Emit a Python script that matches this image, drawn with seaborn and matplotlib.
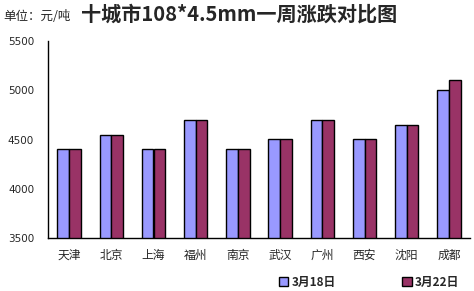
import matplotlib
matplotlib.use("Agg")
import matplotlib.pyplot as plt
import seaborn as sns
import pandas as pd
import numpy as np

cities = ["天津", "北京", "上海", "福州", "南京", "武汉", "广州", "西安", "沈阳", "成都"]
mar18 = [4400, 4550, 4400, 4700, 4400, 4500, 4700, 4500, 4650, 5000]
mar22 = [4400, 4550, 4400, 4700, 4400, 4500, 4700, 4500, 4650, 5100]
series = ["3月18日", "3月22日"]
colors = ["#9999FF", "#993366"]
yticks = [3500, 4000, 4500, 5000, 5500]

df = pd.DataFrame({
    "city": cities * 2,
    "value": mar18 + mar22,
    "series": [series[0]] * len(cities) + [series[1]] * len(cities),
})

sns.set_style("white")
plt.rcParams["font.family"] = ["Noto Sans CJK SC", "DejaVu Sans"]

fig = plt.figure(figsize=(4.74, 2.91), dpi=100)
ax = fig.add_axes([48 / 474, 1 - 238 / 291, (470 - 48) / 474, (238 - 41) / 291])

sns.barplot(data=df, x="city", y="value", hue="series", palette=colors,
            width=0.55, gap=0, edgecolor="black", linewidth=1.0,
            saturation=1, ax=ax, legend=True)

ax.set_ylim(3500, 5500)
ax.set_xlim(-0.5, len(cities) - 0.5)
ax.set_yticks(yticks)
ax.set_yticklabels([str(v) for v in yticks], fontsize=7.5, family=["DejaVu Sans"])
ax.set_xlabel("")
ax.set_ylabel("")
ax.tick_params(axis="y", direction="in", length=3, width=1, color="black", pad=10)
ax.tick_params(axis="x", which="major", length=0, pad=8, labelsize=8.5)
ax.set_xticks(np.arange(-0.5, len(cities), 1.0), minor=True)
ax.tick_params(axis="x", which="minor", direction="in", length=3, width=1, color="black")
for s in ["top", "right"]:
    ax.spines[s].set_visible(False)
for s in ["left", "bottom"]:
    ax.spines[s].set_color("black")
    ax.spines[s].set_linewidth(1.0)

leg = ax.legend(loc="center right", bbox_to_anchor=(0.975, -0.225), ncol=2, frameon=False,
                prop={"weight": "bold", "size": 8.5}, handlelength=0.8, handleheight=0.8,
                columnspacing=5.6, handletextpad=0.3, borderaxespad=0, borderpad=0)

fig.text(0.006, 1 - 17 / 291, "单位：元/吨", fontsize=9, va="center", ha="left")
fig.text(0.505, 1 - 14 / 291, "十城市108*4.5mm一周涨跌对比图", fontsize=14.5,
         weight="bold", va="center", ha="center")

fig.savefig("out.png", dpi=100)
